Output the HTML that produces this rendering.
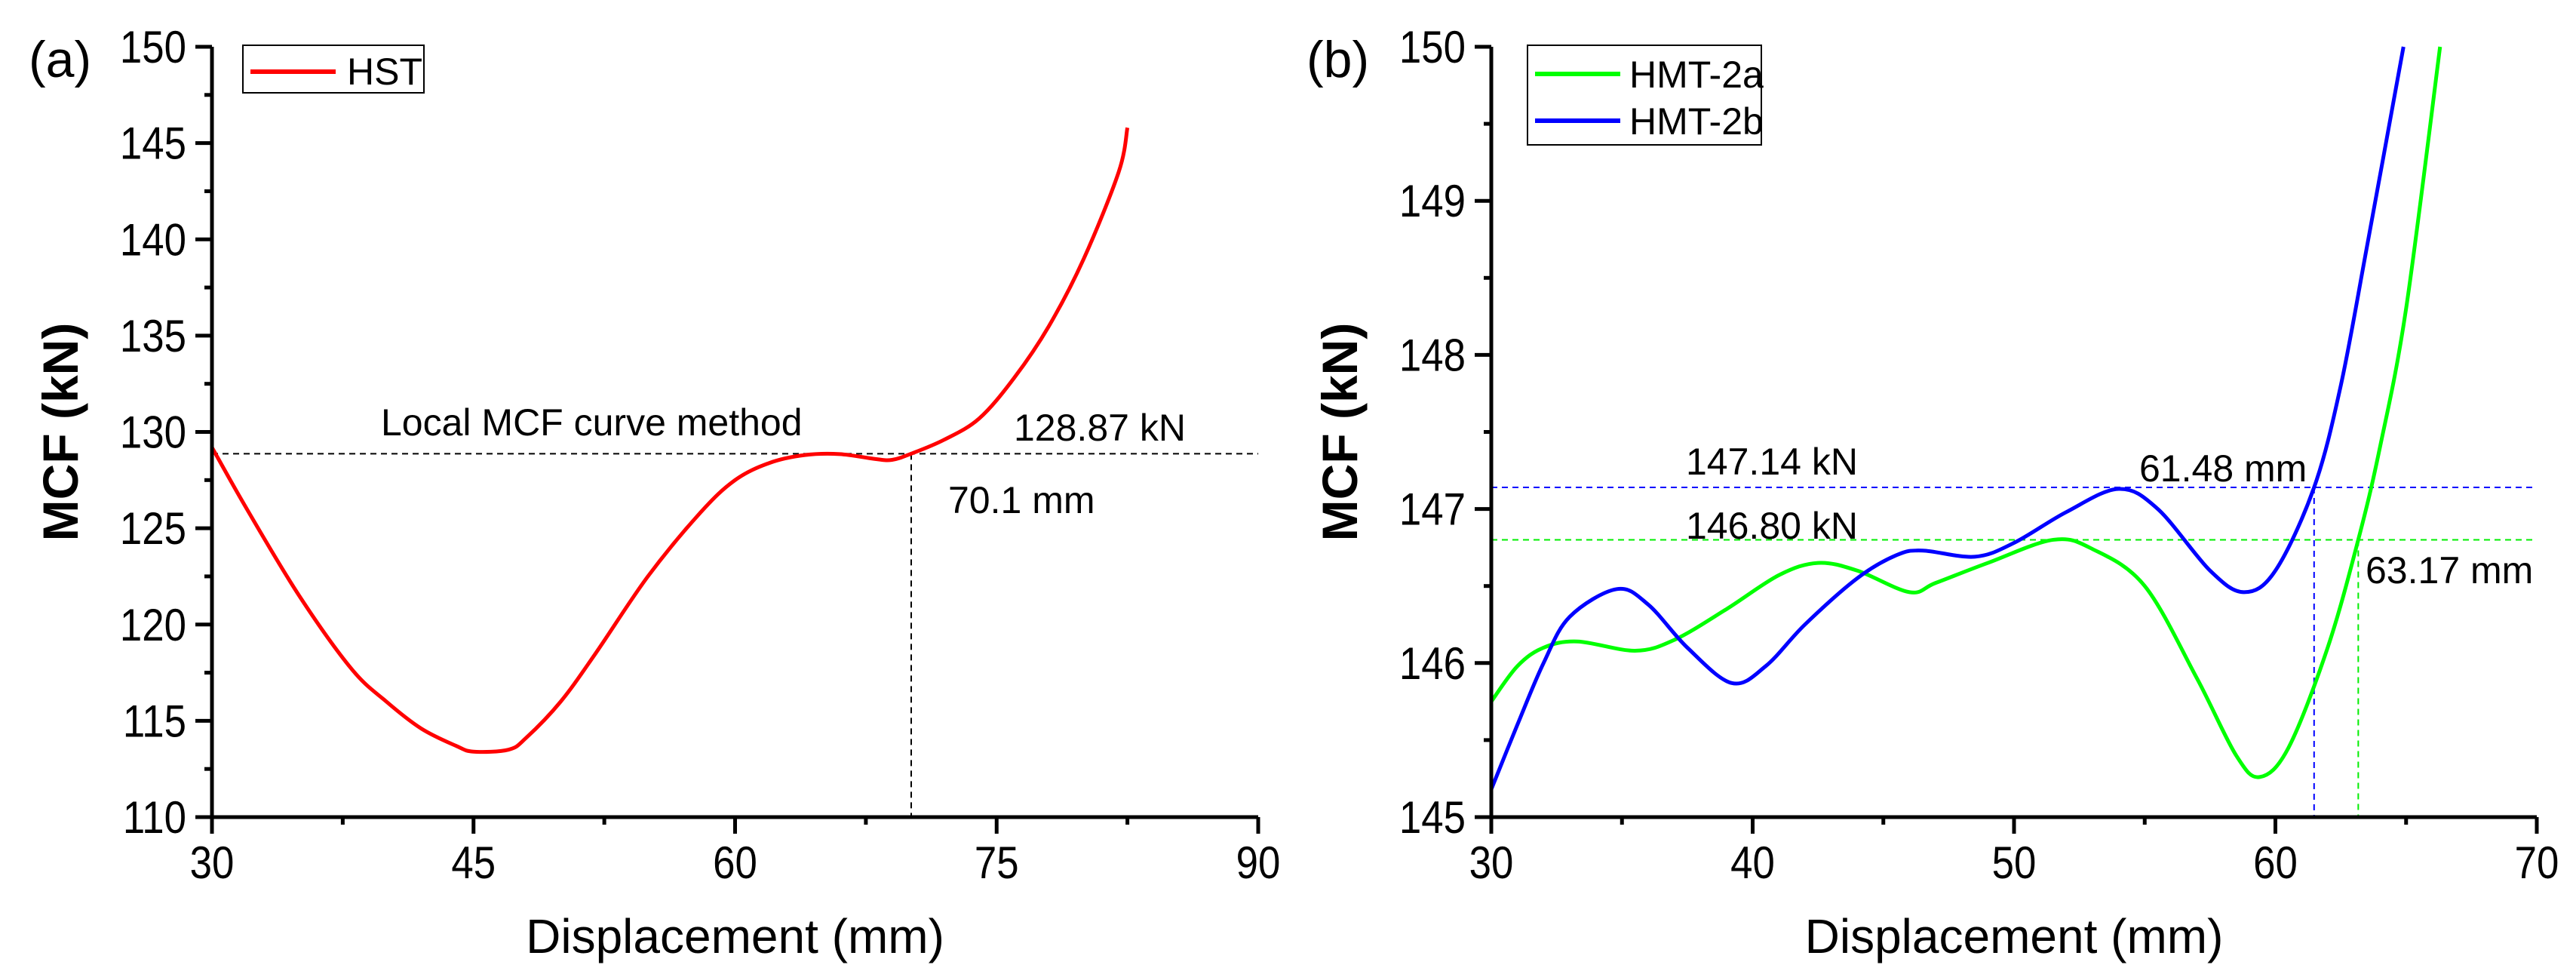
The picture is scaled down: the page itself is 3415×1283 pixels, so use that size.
<!DOCTYPE html>
<html><head><meta charset="utf-8"><style>
html,body{margin:0;padding:0;background:#fff}
svg{display:block}
text{font-family:"Liberation Sans",sans-serif;fill:#000}
</style></head><body>
<svg id="chart" width="3415" height="1283" viewBox="0 0 3415 1283" xmlns="http://www.w3.org/2000/svg">
<text x="38" y="102" font-size="68">(a)</text>
<text x="1732" y="102" font-size="68">(b)</text>
</svg>
<script>
// Panel A data
const hstX = [30,32,35,38,40,42,44,45,47,48,50,52,55,58,60,62,64,66,68,69,70.1,72,74,76,78,80,82,82.5];
const hstY = [129.2,126,121.5,117.7,116,114.6,113.7,113.4,113.5,114.1,116,118.5,122.5,125.8,127.5,128.4,128.8,128.85,128.6,128.55,128.87,129.6,130.7,132.8,135.5,139,143.5,145.8];
const aXTicks = [30,45,60,75,90];
const aYTicks = [110,115,120,125,130,135,140,145,150];
// Panel B data
const h2aX = [30,31,32,33.3,35.5,37,39,41,42.5,44,46,47,49,51.5,53,55,57,58.5,59.4,60.5,62,63.17,64,65,66.3];
const h2aY = [145.75,145.98,146.1,146.14,146.08,146.15,146.35,146.57,146.65,146.6,146.46,146.52,146.65,146.8,146.74,146.5,145.9,145.4,145.26,145.45,146.1,146.8,147.4,148.3,150];
const h2bX = [30,31,32,33,34.8,36,37.5,39.2,40.5,42,44,45.5,46.5,48.5,50,52,54,55.5,57.5,58.8,60,61.48,62.5,63.5,64.9];
const h2bY = [145.18,145.6,146.0,146.3,146.48,146.38,146.1,145.87,145.98,146.25,146.55,146.7,146.73,146.69,146.78,146.98,147.13,147.0,146.6,146.46,146.6,147.14,147.8,148.7,150];
const bXTicks = [30,40,50,60,70];
const bYTicks = [145,146,147,148,149,150];

const NS = "http://www.w3.org/2000/svg";
const svg = document.getElementById('chart');
function mk(tag, attrs, parent){const e=document.createElementNS(NS,tag);for(const k in attrs)e.setAttribute(k,attrs[k]);(parent||svg).appendChild(e);return e;}
function scale(d0,d1,r0,r1){return v=>r0+(v-d0)/(d1-d0)*(r1-r0);}
function smoothPath(xs,ys,sx,sy){
  const p=xs.map((x,i)=>[sx(x),sy(ys[i])]);
  let d=`M${p[0][0]},${p[0][1]}`;
  for(let i=0;i<p.length-1;i++){
    const p0=p[i-1]||p[i],p1=p[i],p2=p[i+1],p3=p[i+2]||p2;
    const c1=[p1[0]+(p2[0]-p0[0])/6,p1[1]+(p2[1]-p0[1])/6];
    const c2=[p2[0]-(p3[0]-p1[0])/6,p2[1]-(p3[1]-p1[1])/6];
    d+=` C${c1[0]},${c1[1]} ${c2[0]},${c2[1]} ${p2[0]},${p2[1]}`;
  }
  return d;
}
function axes(g,sx,sy,xt,yt,xminor,yminor,L,R,T,B){
  const ax=mk('path',{d:`M${L},${T} V${B} H${R}`,fill:'none',stroke:'#000','stroke-width':5},g);
  
  
  xt.forEach((v,i)=>{
    const x=sx(v);
    mk('line',{x1:x,y1:B,x2:x,y2:B+22,stroke:'#000','stroke-width':5},g);
    const t=mk('text',{x:0,y:0,'font-size':60,'text-anchor':'middle',transform:`translate(${x},1164) scale(0.88,1)`},g);t.textContent=v;
    
    
    if(i<xt.length-1){const m=sx(v+xminor);mk('line',{x1:m,y1:B,x2:m,y2:B+10,stroke:'#000','stroke-width':5},g);}
  });
  yt.forEach((v,i)=>{
    const y=sy(v);
    mk('line',{x1:L-22,y1:y,x2:L,y2:y,stroke:'#000','stroke-width':5},g);
    const t=mk('text',{x:0,y:0,'font-size':60,'text-anchor':'end',transform:`translate(${L-34},${y+21}) scale(0.88,1)`},g);t.textContent=v;
    
    
    if(i<yt.length-1){const m=sy(v+yminor);mk('line',{x1:L-10,y1:m,x2:L,y2:m,stroke:'#000','stroke-width':5},g);}
  });
  const xt2=mk('text',{x:(L+R)/2,y:1263,'font-size':64,'text-anchor':'middle'},g);xt2.textContent='Displacement (mm)';
  
  
  const yt2=mk('text',{x:0,y:0,'font-size':66,'font-weight':'bold','text-anchor':'middle',transform:`translate(${L-178},${(T+B)/2}) rotate(-90)`},g);yt2.textContent='MCF  (kN)';
  
  
}
function label(g,txt,x,y,name){const t=mk('text',{x:x,y:y,'font-size':50},g);t.textContent=txt;
  
  }

// Panel A
{
  const L=281,R=1668,T=62,B=1083;
  const g=mk('g',{});
  
  
  const sx=scale(30,90,L,R), sy=scale(110,150,B,T);
  const yv=128.87, xv=70.1;
  mk('line',{x1:L,y1:sy(yv),x2:R,y2:sy(yv),stroke:'#000','stroke-width':2,'stroke-dasharray':'8,6'},g);
  mk('line',{x1:sx(xv),y1:sy(yv),x2:sx(xv),y2:B,stroke:'#000','stroke-width':2,'stroke-dasharray':'8,6'},g);
  const p=mk('path',{d:smoothPath(hstX,hstY,sx,sy),fill:'none',stroke:'#ff0000','stroke-width':5},g);
  
  
  axes(g,sx,sy,aXTicks,aYTicks,7.5,2.5,L,R,T,B);
  label(g,'Local MCF curve method',505,577,'method-annotation');
  label(g,'128.87 kN',1344,584,'value-annotation');
  label(g,'70.1 mm',1257,680,'displacement-annotation');
  const lg=mk('g',{},g);
  
  
  mk('rect',{x:322,y:60,width:240,height:63,fill:'#fff',stroke:'#000','stroke-width':2},lg);
  mk('line',{x1:332,y1:95,x2:445,y2:95,stroke:'#ff0000','stroke-width':6},lg);
  const t=mk('text',{x:460,y:112,'font-size':50},lg);t.textContent='HST';
  
  
}
// Panel B
{
  const L=1977,R=3363,T=62,B=1083;
  const g=mk('g',{});
  
  
  const sx=scale(30,70,L,R), sy=scale(145,150,B,T);
  mk('line',{x1:L,y1:sy(147.14),x2:R,y2:sy(147.14),stroke:'#0000ff','stroke-width':2,'stroke-dasharray':'8,6'},g);
  mk('line',{x1:L,y1:sy(146.80),x2:R,y2:sy(146.80),stroke:'#00ee00','stroke-width':2,'stroke-dasharray':'8,6'},g);
  mk('line',{x1:sx(61.48),y1:sy(147.14),x2:sx(61.48),y2:B,stroke:'#0000ff','stroke-width':2,'stroke-dasharray':'8,6'},g);
  mk('line',{x1:sx(63.17),y1:sy(146.80),x2:sx(63.17),y2:B,stroke:'#00ee00','stroke-width':2,'stroke-dasharray':'8,6'},g);
  const pa=mk('path',{d:smoothPath(h2aX,h2aY,sx,sy),fill:'none',stroke:'#00ff00','stroke-width':5},g);
  
  
  const pb=mk('path',{d:smoothPath(h2bX,h2bY,sx,sy),fill:'none',stroke:'#0000ff','stroke-width':5},g);
  
  
  axes(g,sx,sy,bXTicks,bYTicks,5,0.5,L,R,T,B);
  label(g,'147.14 kN',2235,629,'hmt-2b-value-annotation');
  label(g,'146.80 kN',2235,714,'hmt-2a-value-annotation');
  label(g,'61.48 mm',2836,638,'hmt-2b-displacement-annotation');
  label(g,'63.17 mm',3136,773,'hmt-2a-displacement-annotation');
  const lg=mk('g',{},g);
  
  
  mk('rect',{x:2025,y:60,width:310,height:132,fill:'#fff',stroke:'#000','stroke-width':2},lg);
  mk('line',{x1:2035,y1:98,x2:2148,y2:98,stroke:'#00ff00','stroke-width':6},lg);
  mk('line',{x1:2035,y1:160,x2:2148,y2:160,stroke:'#0000ff','stroke-width':6},lg);
  const t1=mk('text',{x:2160,y:116,'font-size':50},lg);t1.textContent='HMT-2a';
  
  
  const t2=mk('text',{x:2160,y:178,'font-size':50},lg);t2.textContent='HMT-2b';
  
  
}
</script>
</body></html>
